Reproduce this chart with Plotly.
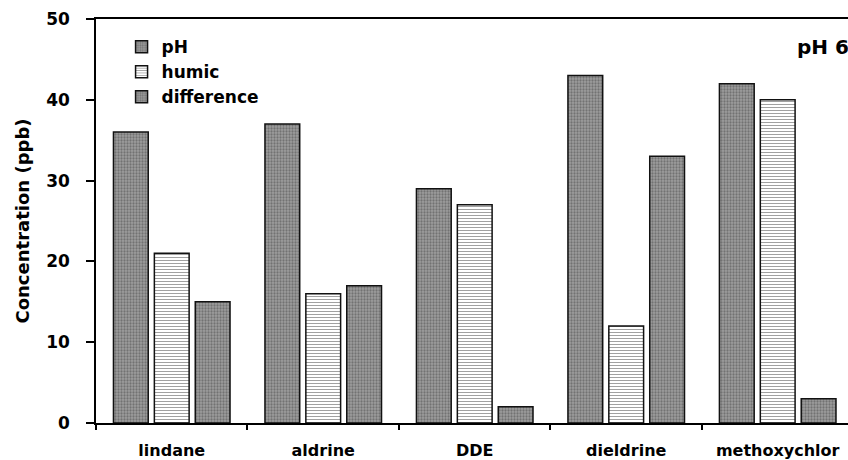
import plotly.graph_objects as go

compounds = ["lindane", "aldrine", "DDE", "dieldrine", "methoxychlor"]
ph_values = [36, 37, 29, 43, 42]
humic_values = [21, 16, 27, 12, 40]
difference_values = [15, 17, 2, 33, 3]
y_ticks = [0, 10, 20, 30, 40, 50]

FONT = "DejaVu Sans"

dotted = dict(shape=".", bgcolor="#9e9e9e", fgcolor="#454545", size=3, solidity=0.45)
striped = dict(shape="-", bgcolor="#ffffff", fgcolor="#444444", size=3, solidity=0.35)
outline = dict(color="#111111", width=1.5)

fig = go.Figure()
fig.add_trace(go.Bar(name="pH", x=compounds, y=ph_values,
                     marker=dict(color="#9e9e9e", pattern=dotted, line=outline)))
fig.add_trace(go.Bar(name="humic", x=compounds, y=humic_values,
                     marker=dict(color="#ffffff", pattern=striped, line=outline)))
fig.add_trace(go.Bar(name="difference", x=compounds, y=difference_values,
                     marker=dict(color="#9e9e9e", pattern=dotted, line=outline)))

fig.add_annotation(text="<b>pH 6</b>", xref="paper", yref="paper", x=0.967, y=0.93,
                   xanchor="center", yanchor="middle", showarrow=False,
                   font=dict(family=FONT, size=20, color="#000"))

fig.update_layout(
    width=848, height=460,
    margin=dict(l=96, r=0, t=19, b=37),
    paper_bgcolor="white", plot_bgcolor="white",
    barmode="group", bargap=0.19, bargroupgap=0.15,
    font=dict(family=FONT, color="#000"),
    showlegend=True,
    legend=dict(x=0.034, y=0.975, xanchor="left", yanchor="top",
                bgcolor="rgba(0,0,0,0)", tracegroupgap=0,
                font=dict(family=FONT, size=17, color="#000", weight="bold")),
    xaxis=dict(range=[-0.5, 4.464], showline=True, linecolor="#000", linewidth=1.5,
               mirror=True, ticks="outside", ticklen=5, tickwidth=1.5, tickcolor="#000",
               tickson="boundaries", showgrid=False, ticklabelstandoff=12,
               tickfont=dict(family=FONT, size=16, color="#000", weight="bold")),
    yaxis=dict(range=[0, 50], tickvals=y_ticks, showline=True, linecolor="#000",
               linewidth=1.5, ticks="outside", ticklen=8, tickwidth=1.5, tickcolor="#000",
               showgrid=False, zeroline=False, ticklabelstandoff=13,
               tickfont=dict(family=FONT, size=17, color="#000", weight="bold"),
               title=dict(text="<b>Concentration (ppb)</b>", standoff=12,
                          font=dict(family=FONT, size=18, color="#000"))),
)

fig.write_html("out.html")
